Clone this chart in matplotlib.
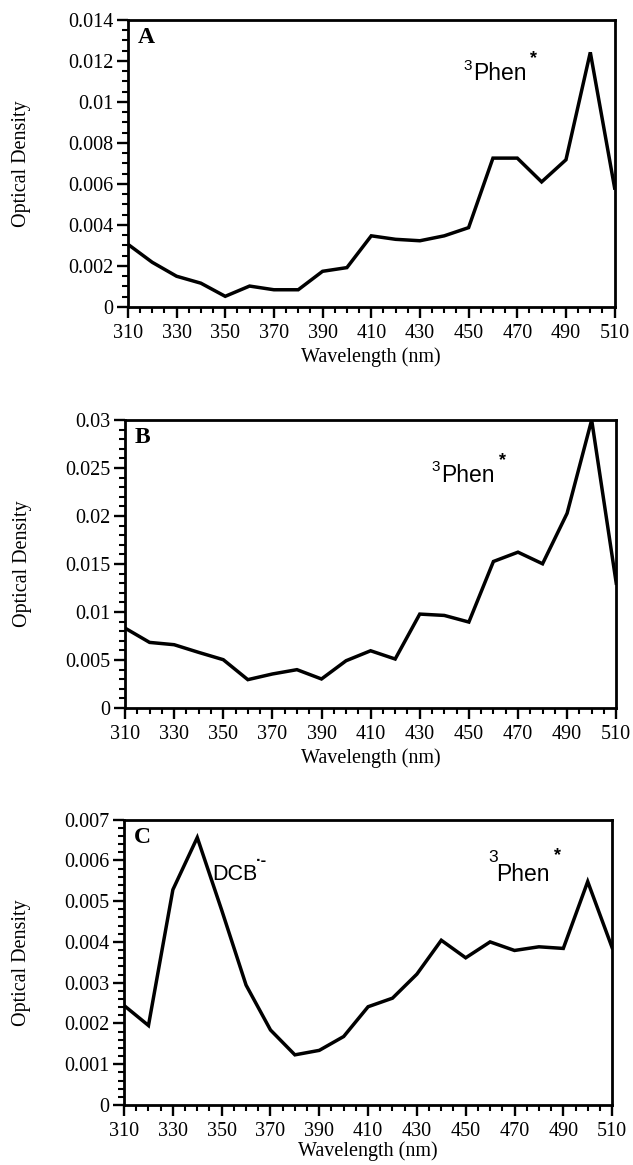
import matplotlib
matplotlib.use("Agg")
import matplotlib.pyplot as plt
from matplotlib.ticker import MultipleLocator, FixedFormatter, FixedLocator

wavelength = [310, 320, 330, 340, 350, 360, 370, 380, 390, 400, 410,
              420, 430, 440, 450, 460, 470, 480, 490, 500, 510]

od_a = [0.00306, 0.00218, 0.0015, 0.00116, 0.00052, 0.00102, 0.00084,
        0.00084, 0.00174, 0.00192, 0.00347, 0.0033, 0.00323, 0.00347,
        0.00387, 0.00726, 0.00726, 0.0061, 0.00718, 0.01242, 0.0058]

od_b = [0.00832, 0.00683, 0.00659, 0.00579, 0.00503, 0.00295, 0.00354,
        0.00399, 0.00302, 0.00492, 0.00596, 0.0051, 0.00978, 0.00964,
        0.00895, 0.01526, 0.01623, 0.01502, 0.02028, 0.0300, 0.0130]

od_c = [0.00244, 0.00195, 0.00528, 0.00656, 0.00478, 0.00294, 0.00184,
        0.00123, 0.00134, 0.00168, 0.00241, 0.00262, 0.00321, 0.00404,
        0.00361, 0.0040, 0.00379, 0.00388, 0.00384, 0.00548, 0.00386]

x_ticks = [310, 330, 350, 370, 390, 410, 430, 450, 470, 490, 510]
yticks_a = [0, 0.002, 0.004, 0.006, 0.008, 0.01, 0.012, 0.014]
ylabels_a = ["0", "0.002", "0.004", "0.006", "0.008", "0.01", "0.012", "0.014"]
yticks_b = [0, 0.005, 0.01, 0.015, 0.02, 0.025, 0.03]
ylabels_b = ["0", "0.005", "0.01", "0.015", "0.02", "0.025", "0.03"]
yticks_c = [0, 0.001, 0.002, 0.003, 0.004, 0.005, 0.006, 0.007]
ylabels_c = ["0", "0.001", "0.002", "0.003", "0.004", "0.005", "0.006", "0.007"]

SERIF = "Liberation Serif"
SANS = "Liberation Sans"

fig = plt.figure(figsize=(6.33, 11.65), dpi=100)


def panel(rect, y, yticks, ylabels, ymax, yminor, letter, ylab_x, xpad=3):
    ax = fig.add_axes(rect)
    ax.plot(wavelength, y, color="black", lw=2.5, solid_joinstyle="miter")
    ax.set_xlim(310, 510)
    ax.set_ylim(0, ymax)
    ax.xaxis.set_major_locator(FixedLocator(x_ticks))
    ax.xaxis.set_minor_locator(MultipleLocator(5))
    ax.yaxis.set_major_locator(FixedLocator(yticks))
    ax.yaxis.set_major_formatter(FixedFormatter(ylabels))
    ax.yaxis.set_minor_locator(MultipleLocator(yminor))
    ax.tick_params(which="major", direction="out", length=8, width=1.7,
                   labelsize=14.5, pad=2.5)
    ax.tick_params(axis="x", which="major", pad=4)
    ax.tick_params(which="minor", direction="out", length=4.5, width=1.5)
    for lab in ax.get_xticklabels() + ax.get_yticklabels():
        lab.set_fontfamily(SERIF)
    for s in ax.spines.values():
        s.set_linewidth(2)
    ax.set_xlabel("Wavelength (nm)", fontfamily=SERIF, fontsize=14.5, labelpad=xpad)
    ax.set_ylabel("Optical Density", fontfamily=SERIF, fontsize=14.5)
    ax.yaxis.set_label_coords(ylab_x, 0.5)
    ax.text(0.02, 0.975, letter, transform=ax.transAxes, fontfamily=SERIF,
            fontweight="bold", fontsize=17, va="top", ha="left")
    return ax


def phen(ax, x, y):
    ax.text(x, y, "Phen", transform=ax.transAxes, fontfamily=SANS,
            fontsize=16.5, va="baseline", ha="left")
    ax.text(x - 0.021, y + 0.075, "3", transform=ax.transAxes, fontfamily=SANS,
            fontsize=11, va="top", ha="left")
    ax.text(x + 0.117, y + 0.075, "*", transform=ax.transAxes, fontfamily=SANS,
            fontsize=13, fontweight="bold", va="center", ha="left")


ax_a = panel([0.202, 0.7365, 0.769, 0.2464], od_a, yticks_a, ylabels_a,
             0.014, 0.0005, "A", -0.198)
phen(ax_a, 0.71, 0.79)

ax_b = panel([0.1975, 0.3923, 0.776, 0.2472], od_b, yticks_b, ylabels_b,
             0.03, 0.001, "B", -0.19)
phen(ax_b, 0.644, 0.785)

ax_c = panel([0.196, 0.0515, 0.771, 0.2450], od_c, yticks_c, ylabels_c,
             0.007, 0.0002, "C", -0.19, xpad=0.5)
ax_c.text(0.762, 0.784, "Phen", transform=ax_c.transAxes, fontfamily=SANS,
          fontsize=16.5, va="baseline", ha="left")
ax_c.text(0.747, 0.895, "3", transform=ax_c.transAxes, fontfamily=SANS,
          fontsize=12.5, va="top", ha="left")
ax_c.text(0.88, 0.875, "*", transform=ax_c.transAxes, fontfamily=SANS,
          fontsize=13, fontweight="bold", va="center", ha="left")
ax_c.text(0.18, 0.787, "DCB", transform=ax_c.transAxes, fontfamily=SANS,
          fontsize=15.5, va="baseline", ha="left")
ax_c.text(0.27, 0.855, "\u00b7-", transform=ax_c.transAxes, fontfamily=SANS,
          fontsize=12, fontweight="bold", va="center", ha="left")

fig.savefig("out.png", dpi=100)
